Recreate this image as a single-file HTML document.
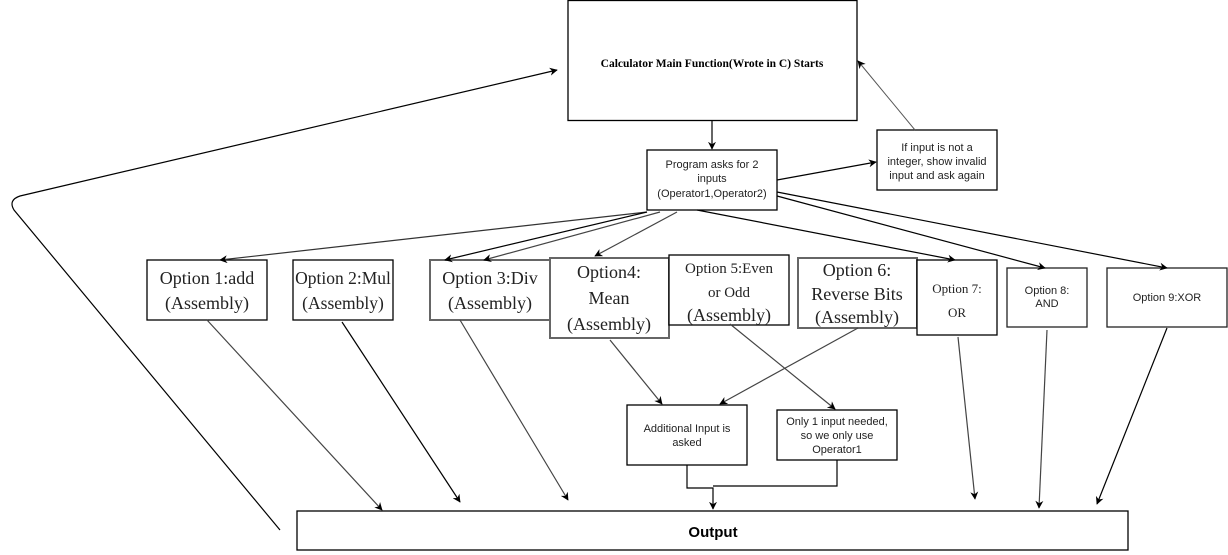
<!DOCTYPE html>
<html><head><meta charset="utf-8"><style>
html,body{margin:0;padding:0;background:#fff;width:1228px;height:555px;overflow:hidden}
svg{display:block}
.s{font-family:"Liberation Serif",serif}
.a{font-family:"Liberation Sans",sans-serif}
</style></head><body>
<svg width="1228" height="555" viewBox="0 0 1228 555" xmlns="http://www.w3.org/2000/svg">
<defs><marker id="m" viewBox="0 0 10 10" refX="9" refY="5" markerWidth="8" markerHeight="8" markerUnits="userSpaceOnUse" orient="auto"><path d="M0,0 L10,5 L0,10 L3,5 z" fill="#000"/></marker></defs>
<g fill="#fff" stroke="#000" stroke-width="1.3">
<rect x="568" y="0.5" width="289" height="120"/>
<rect x="647" y="150" width="130" height="60"/>
<rect x="877" y="130" width="120" height="60"/>
<rect x="147" y="260" width="120" height="60"/>
<rect x="293" y="260" width="100" height="60"/>
<rect x="430" y="260" width="120" height="60" stroke="#666" stroke-width="2"/>
<rect x="550" y="258" width="119" height="80" stroke="#666" stroke-width="2"/>
<rect x="669" y="255" width="120" height="70"/>
<rect x="798" y="258" width="119" height="70" stroke="#666" stroke-width="2"/>
<rect x="917" y="260" width="80" height="75"/>
<rect x="1007" y="268" width="80" height="59" stroke="#222"/>
<rect x="1107" y="268" width="120" height="59" stroke="#222"/>
<rect x="627" y="405" width="120" height="60"/>
<rect x="777" y="410" width="120" height="50"/>
<rect x="297" y="511" width="831" height="39"/>
</g>
<g fill="none" stroke="#000" stroke-width="1.2" marker-end="url(#m)">
<path d="M712 120 L712 149"/>
<path d="M777 180 L876 162"/>
<path d="M915 130 L858 61" stroke="#555" stroke-width="1"/>
<path d="M280 530 L14 210 Q8 200 20 196 L557 70"/>
<path d="M647 212 L220 260" stroke="#333"/>
<path d="M647 212 L445 260"/>
<path d="M660 212 L484 260" stroke="#444"/>
<path d="M677 212 L595 256" stroke="#444"/>
<path d="M697 210 L955 260"/>
<path d="M777 196 L1045 268"/>
<path d="M777 192 L1167 268"/>
<path d="M207 320 L382 510" stroke="#444"/>
<path d="M342 322 L460 502"/>
<path d="M460 320 L568 500" stroke="#444"/>
<path d="M610 340 L662 404" stroke="#444"/>
<path d="M858 328 L720 404" stroke="#444"/>
<path d="M730 324 L835 409" stroke="#444"/>
<path d="M958 337 L975 499" stroke="#444"/>
<path d="M1047 330 L1039 508" stroke="#444"/>
<path d="M1167 328 L1097 504"/>
<path d="M687 465 L687 488 L713 488 L713 509"/>
<path d="M837 460 L837 486 L713 486" marker-end="none"/>
</g>
<g text-anchor="middle" fill="#000">
<text x="712" y="67" class="s" font-size="11.5" font-weight="bold">Calculator Main Function(Wrote in C) Starts</text>
<text class="a" font-size="11" fill="#222"><tspan x="712" y="168">Program asks for 2</tspan><tspan x="712" y="182">inputs</tspan><tspan x="712" y="197">(Operator1,Operator2)</tspan></text>
<text class="a" font-size="11" fill="#222"><tspan x="937" y="151">If input is not a</tspan><tspan x="937" y="165">integer, show invalid</tspan><tspan x="937" y="179">input and ask again</tspan></text>
<text class="s" font-size="18" fill="#222"><tspan x="207" y="284">Option 1:add</tspan><tspan x="207" y="309">(Assembly)</tspan></text>
<text class="s" font-size="17.5" fill="#222"><tspan x="343" y="284">Option 2:Mul</tspan><tspan x="343" y="309">(Assembly)</tspan></text>
<text class="s" font-size="18" fill="#222"><tspan x="490" y="284">Option 3:Div</tspan><tspan x="490" y="309">(Assembly)</tspan></text>
<text class="s" font-size="18" fill="#222"><tspan x="609" y="278">Option4:</tspan><tspan x="609" y="304">Mean</tspan><tspan x="609" y="330">(Assembly)</tspan></text>
<text class="s" font-size="15" fill="#222"><tspan x="729" y="273">Option 5:Even</tspan><tspan x="729" y="297">or Odd</tspan></text>
<text class="s" font-size="18" fill="#222" x="729" y="321">(Assembly)</text>
<text class="s" font-size="18" fill="#222"><tspan x="857" y="276">Option 6:</tspan><tspan x="857" y="300">Reverse Bits</tspan><tspan x="857" y="323">(Assembly)</tspan></text>
<text class="s" font-size="13" fill="#222"><tspan x="957" y="293">Option 7:</tspan><tspan x="957" y="317">OR</tspan></text>
<text class="a" font-size="11" fill="#222"><tspan x="1047" y="294">Option 8:</tspan><tspan x="1047" y="307">AND</tspan></text>
<text class="a" font-size="11" fill="#222" x="1167" y="301">Option 9:XOR</text>
<text class="a" font-size="11" fill="#222"><tspan x="687" y="432">Additional Input is</tspan><tspan x="687" y="446">asked</tspan></text>
<text class="a" font-size="11" fill="#222"><tspan x="837" y="425">Only 1 input needed,</tspan><tspan x="837" y="439">so we only use</tspan><tspan x="837" y="453">Operator1</tspan></text>
<text class="a" font-size="15" font-weight="bold" x="713" y="537">Output</text>
</g>
</svg>
</body></html>
